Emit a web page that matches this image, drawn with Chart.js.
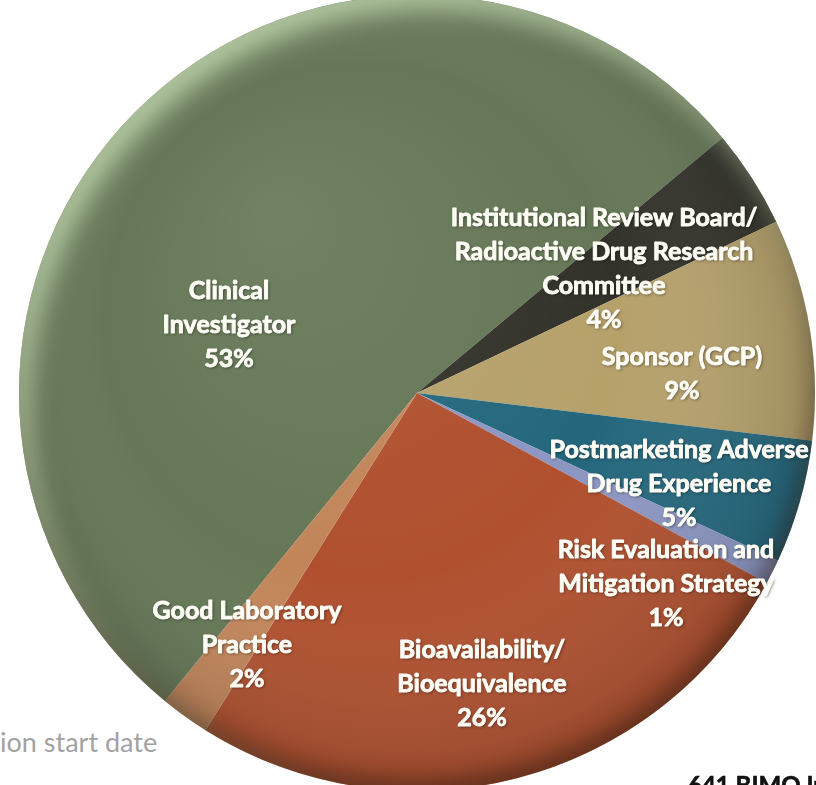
<!DOCTYPE html>
<html>
<head>
<meta charset="utf-8">
<title>BIMO inspections by program area</title>
<script src="https://cdn.jsdelivr.net/npm/chart.js@4.4.1/dist/chart.umd.min.js"></script>
<style>
  html, body {
    margin: 0;
    padding: 0;
    width: 816px;
    height: 785px;
    overflow: hidden;
    background: #fff;
    position: relative;
  }
  #programPie {
    position: absolute;
    left: 19px;
    top: -5px;
  }
  .note {
    position: absolute;
    font-family: Lato, "Open Sans", sans-serif;
    white-space: nowrap;
  }
  #startNote {
    left: 0;
    top: 728px;
    font-size: 27px;
    line-height: 27px;
    color: #a2a2a2;
  }
  #totalNote {
    left: 688px;
    top: 773px;
    font-size: 24px;
    line-height: 24px;
    font-weight: bold;
    color: #111;
    -webkit-text-stroke: 0.6px #111;
  }
</style>
</head>
<body>
<div class="note" id="startNote">ion start date</div>
<canvas id="programPie" width="796" height="796"></canvas>
<div class="note" id="totalNote">641 BIMO Inspections</div>

<script>
// share of inspections per program area, in percent
const programs = [
  "Clinical Investigator",
  "Institutional Review Board/Radioactive Drug Research Committee",
  "Sponsor (GCP)",
  "Postmarketing Adverse Drug Experience",
  "Risk Evaluation and Mitigation Strategy",
  "Bioavailability/Bioequivalence",
  "Good Laboratory Practice"
];
const shares = [53, 4, 9, 5, 1, 26, 2];

// how each label breaks over lines
const labelLines = [
  ["Clinical", "Investigator"],
  ["Institutional Review Board/", "Radioactive Drug Research", "Committee"],
  ["Sponsor (GCP)"],
  ["Postmarketing Adverse", "Drug Experience"],
  ["Risk Evaluation and", "Mitigation Strategy"],
  ["Bioavailability/", "Bioequivalence"],
  ["Good Laboratory", "Practice"]
];

const sliceColors = ["#657756", "#32322a", "#b6a16b", "#24677d", "#8c96c2", "#b0502f", "#c2855a"];

// first line of each label, relative to the pie centre
const labelOffsets = [
  [-188, -102],
  [187, -175],
  [265, -36],
  [262, 57],
  [249, 157],
  [65, 257],
  [-170, 218]
];
const lineStep = 34;

// soft 3D look: light rim on the upper left, darker lower right
const bevel = {
  id: "bevel",
  afterDatasetsDraw(chart) {
    const arc = chart.getDatasetMeta(0).data[0];
    const { x, y, outerRadius: r } = arc;
    const ctx = chart.ctx;
    ctx.save();
    ctx.beginPath();
    ctx.arc(x, y, r, 0, Math.PI * 2);
    ctx.clip();

    const body = ctx.createRadialGradient(x - r * 0.35, y - r * 0.45, r * 0.05, x, y, r * 1.05);
    body.addColorStop(0, "rgba(255,255,255,0.08)");
    body.addColorStop(0.6, "rgba(255,255,255,0)");
    body.addColorStop(1, "rgba(0,0,0,0.18)");
    ctx.fillStyle = body;
    ctx.fillRect(x - r, y - r, r * 2, r * 2);

    ctx.lineWidth = 60;
    ctx.strokeStyle = "#000";
    ctx.shadowColor = "rgba(230,255,210,0.65)";
    ctx.shadowBlur = 26;
    ctx.shadowOffsetX = 12;
    ctx.shadowOffsetY = 16;
    ctx.beginPath();
    ctx.arc(x, y, r + 32, 0, Math.PI * 2);
    ctx.stroke();

    ctx.shadowColor = "rgba(40,20,10,0.5)";
    ctx.shadowBlur = 22;
    ctx.shadowOffsetX = -4;
    ctx.shadowOffsetY = -12;
    ctx.beginPath();
    ctx.arc(x, y, r + 32, 0, Math.PI * 2);
    ctx.stroke();
    ctx.restore();
  }
};

const sliceLabels = {
  id: "sliceLabels",
  afterDraw(chart) {
    const arc = chart.getDatasetMeta(0).data[0];
    const ctx = chart.ctx;
    ctx.save();
    ctx.font = "bold 25px Lato, 'Open Sans', sans-serif";
    ctx.textAlign = "center";
    ctx.textBaseline = "middle";
    ctx.fillStyle = "#fdfdf6";
    ctx.strokeStyle = "#fdfdf6";
    ctx.lineWidth = 0.9;
    ctx.lineJoin = "round";
    labelLines.forEach((lines, index) => {
      const [dx, dy] = labelOffsets[index];
      const rows = [...lines, shares[index] + "%"];
      rows.forEach((text, row) => {
        const tx = arc.x + dx;
        const ty = arc.y + dy + row * lineStep;
        ctx.shadowColor = "rgba(0,0,0,0.5)";
        ctx.shadowBlur = 3;
        ctx.shadowOffsetX = 1;
        ctx.shadowOffsetY = 1;
        ctx.fillText(text, tx, ty);
        // thicken the strokes a little
        ctx.shadowColor = "transparent";
        ctx.strokeText(text, tx, ty);
      });
    });
    ctx.restore();
  }
};

const context = document.getElementById("programPie").getContext("2d");
new Chart(context, {
  type: "pie",
  data: {
    labels: programs,
    datasets: [{
      data: shares,
      backgroundColor: sliceColors,
      borderWidth: 0,
      hoverOffset: 0
    }]
  },
  options: {
    responsive: false,
    animation: false,
    rotation: 219.3,
    layout: { padding: 0 },
    plugins: {
      legend: { display: false },
      tooltip: { enabled: false }
    }
  },
  plugins: [bevel, sliceLabels]
});
</script>
</body>
</html>
